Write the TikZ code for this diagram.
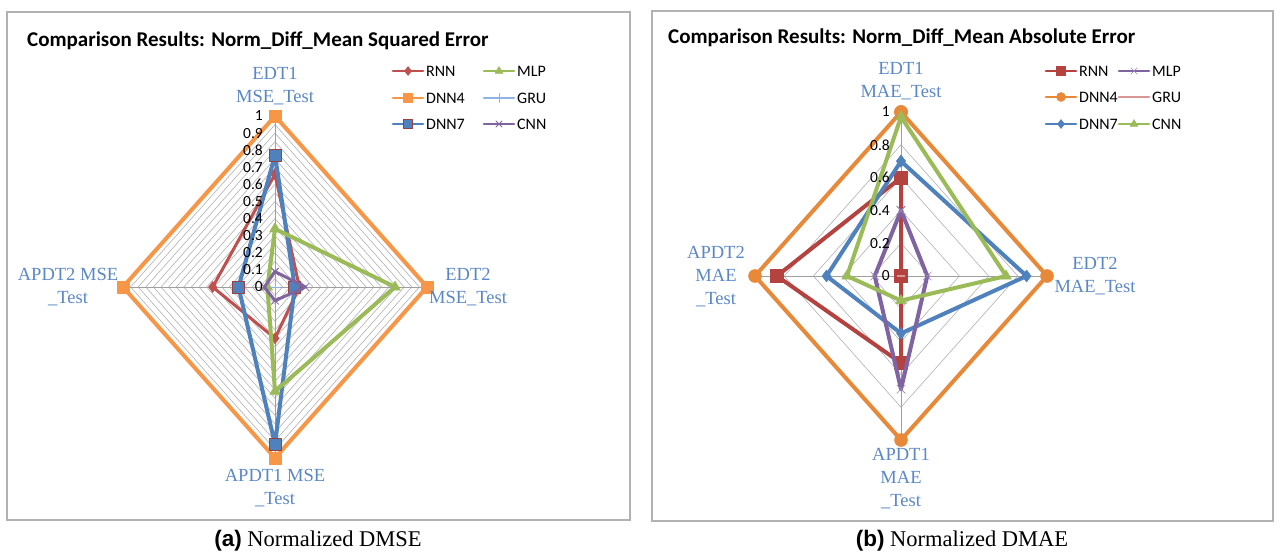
\documentclass[tikz,border=0pt]{standalone}
\usepackage{fontspec}
\setmainfont{Liberation Serif}
\setsansfont{Carlito}
\newfontfamily\capsans{Liberation Sans}
\usetikzlibrary{calc,plotmarks,positioning}
\definecolor{rnnred}{HTML}{C0504D}
\definecolor{rnndark}{HTML}{B4423F}
\definecolor{dnnorange}{HTML}{F79646}
\definecolor{dnnorangeb}{HTML}{E8893A}
\definecolor{dnnblue}{HTML}{4F81BD}
\definecolor{mlpgreen}{HTML}{9BBB59}
\definecolor{grublue}{HTML}{8EB4E3}
\definecolor{grupink}{HTML}{D99694}
\definecolor{cnnpurple}{HTML}{8064A2}
\definecolor{axisblue}{HTML}{5A88C6}
\newcommand{\radar}[5]{\draw[#1] plot coordinates {(0,#2) (#3,0) (0,-#4) (-#5,0) (0,#2)};}
\tikzset{
  frame/.style={draw=gray!60,line width=1.2pt},
  ring/.style={draw=gray!60,line width=0.6pt},
  spoke/.style={draw=gray!75,line width=0.8pt},
  charttitle/.style={font=\sffamily\bfseries\fontsize{21}{24}\selectfont,anchor=west,inner sep=0pt},
  axlab/.style={text=axisblue,font=\fontsize{18.5}{23}\selectfont,align=center,inner sep=0pt},
  ticklab/.style={font=\sffamily\fontsize{15.5}{16}\selectfont,anchor=east,inner sep=0pt},
  legtext/.style={font=\sffamily\fontsize{16}{17}\selectfont,anchor=west,inner sep=0pt},
  caption/.style={font=\fontsize{22.5}{25}\selectfont,inner sep=0pt},
  legline/.style={line width=2.8pt,mark size=4.5pt},
  series/.style={line width=#1,line join=round,line cap=round},
  serRNNa/.style={series=3pt,draw=rnnred,mark=diamond*,mark size=5.5pt,mark options={solid,line width=0.5pt,draw=rnnred,fill=rnnred}},
  serDNNFa/.style={series=4pt,draw=dnnorange,mark=square*,mark size=6pt,mark options={solid,line width=0.5pt,draw=dnnorange,fill=dnnorange}},
  serDNNSa/.style={series=4pt,draw=dnnblue,mark=square*,mark size=6pt,mark options={solid,line width=0.9pt,draw=rnnred!80!black,fill=dnnblue}},
  serMLPa/.style={series=4pt,draw=mlpgreen,mark=triangle*,mark size=6pt,mark options={solid,line width=0.5pt,draw=mlpgreen,fill=mlpgreen}},
  serGRUa/.style={series=2.5pt,draw=grublue,mark=+,mark size=5pt,mark options={solid,line width=0.8pt,draw=grublue}},
  serCNNa/.style={series=3pt,draw=cnnpurple,mark=x,mark size=5pt,mark options={solid,line width=0.8pt,draw=cnnpurple}},
  serRNNb/.style={series=4pt,draw=rnndark,mark=square*,mark size=6.5pt,mark options={solid,line width=0.5pt,draw=rnndark,fill=rnndark}},
  serDNNFb/.style={series=4pt,draw=dnnorangeb,mark=*,mark size=6.5pt,mark options={solid,line width=0.5pt,draw=dnnorangeb,fill=dnnorangeb}},
  serDNNSb/.style={series=4pt,draw=dnnblue,mark=diamond*,mark size=6pt,mark options={solid,line width=0.5pt,draw=dnnblue,fill=dnnblue}},
  serMLPb/.style={series=4pt,draw=cnnpurple,mark=x,mark size=6pt,mark options={solid,line width=0.6pt,draw=cnnpurple!80}},
  serGRUb/.style={series=2.5pt,draw=grupink,mark=none},
  serCNNb/.style={series=4pt,draw=mlpgreen,mark=triangle*,mark size=6pt,mark options={solid,line width=0.5pt,draw=mlpgreen,fill=mlpgreen}},
}

\begin{document}
\begin{tikzpicture}[x=1pt,y=-1pt]
  \useasboundingbox (0,0) rectangle (1280,557);
  \fill[white] (0,0) rectangle (1280,557);
  \draw[frame] (7,12) rectangle (630,520);
  \draw[frame] (652,11) rectangle (1273,521);
  \node[charttitle] (titlea) at (27,41) {Comparison Results: Norm\_Diff\_Mean Squared Error};
  \node[charttitle] (titleb) at (668,38) {Comparison Results: Norm\_Diff\_Mean Absolute Error};

  \begin{scope}[shift={(275,287)},x=152pt,y=171pt]
    \foreach \k in {1,...,20} \draw[ring] (0,\k/20) -- (\k/20,0) -- (0,-\k/20) -- (-\k/20,0) -- cycle;
    \draw[spoke] (0,-1) -- (0,1) (-1,0) -- (1,0);
    \radar{serRNNa}{0.66}{0.16}{0.30}{0.41}
    \radar{serDNNFa}{1}{1}{1}{1}
    \radar{serDNNSa}{0.77}{0.13}{0.92}{0.24}
    \radar{serMLPa}{0.34}{0.79}{0.61}{0.05}
    \draw[serGRUa] plot coordinates {(0,0)};
    \radar{serCNNa}{0.09}{0.20}{0.08}{0.07}
    \foreach \k/\t in {0/0,1/0.1,2/0.2,3/0.3,4/0.4,5/0.5,6/0.6,7/0.7,8/0.8,9/0.9,10/1}
      \node[ticklab] (ya\k) at ([xshift=-12pt]0,\k/10) {\t};
  \end{scope}

  \node[axlab] (edta) at (275,86) {EDT1\\MSE\_Test};
  \node[axlab] (edtb) at (468,287) {EDT2\\MSE\_Test};
  \node[axlab] (apdtb) at (68,287) {APDT2 MSE\\\_Test};
  \node[axlab] (apdta) at (275,488) {APDT1 MSE\\\_Test};

  \foreach \s/\t/\x/\y in {serRNNa/RNN/393/71,serDNNFa/DNN4/393/98,serDNNSa/DNN7/393/124,serMLPa/MLP/484/71,serGRUa/GRU/484/98,serCNNa/CNN/484/124}{
    \draw[\s,legline] (\x,\y) -- ++(30,0);
    \draw[\s,legline] plot coordinates {(\x+15,\y)};
    \node[legtext] (lega\t) at (\x+33,\y) {\t};
  }

  \begin{scope}[shift={(901,276)},x=146pt,y=164pt]
    \foreach \k in {1,...,5} \draw[ring] (0,\k/5) -- (\k/5,0) -- (0,-\k/5) -- (-\k/5,0) -- cycle;
    \draw[spoke] (0,-1) -- (0,1) (-1,0) -- (1,0);
    \radar{serRNNb}{0.60}{0}{0.53}{0.85}
    \radar{serDNNFb}{1}{1}{1}{1}
    \radar{serDNNSb}{0.70}{0.86}{0.35}{0.51}
    \radar{serMLPb}{0.40}{0.18}{0.69}{0.18}
    \draw[grupink,line width=1.5pt] (-0.025,0) -- (0.025,0);
    \radar{serCNNb}{0.97}{0.72}{0.15}{0.37}
    \foreach \k/\t in {0/0,1/0.2,2/0.4,3/0.6,4/0.8,5/1}
      \node[ticklab] (yb\k) at ([xshift=-11pt]0,\k/5) {\t};
  \end{scope}

  \node[axlab] (edtc) at (901,81) {EDT1\\MAE\_Test};
  \node[axlab] (edtd) at (1095,276) {EDT2\\MAE\_Test};
  \node[axlab] (apdtd) at (716,277) {APDT2\\MAE\\\_Test};
  \node[axlab] (apdtc) at (901,479) {APDT1\\MAE\\\_Test};

  \foreach \s/\t/\x/\y in {serRNNb/RNN/1046/71,serDNNFb/DNN4/1046/97,serDNNSb/DNN7/1046/124,serMLPb/MLP/1119/71,serGRUb/GRU/1119/97,serCNNb/CNN/1119/124}{
    \draw[\s,legline] (\x,\y) -- ++(30,0);
    \draw[\s,legline] plot coordinates {(\x+15,\y)};
    \node[legtext] (legb\t) at (\x+33,\y) {\t};
  }

  \node[caption] (capa) at (318,541) {{\capsans\bfseries (a)} Normalized DMSE};
  \node[caption] (capb) at (962,541) {{\capsans\bfseries (b)} Normalized DMAE};
\end{tikzpicture}
\end{document}
